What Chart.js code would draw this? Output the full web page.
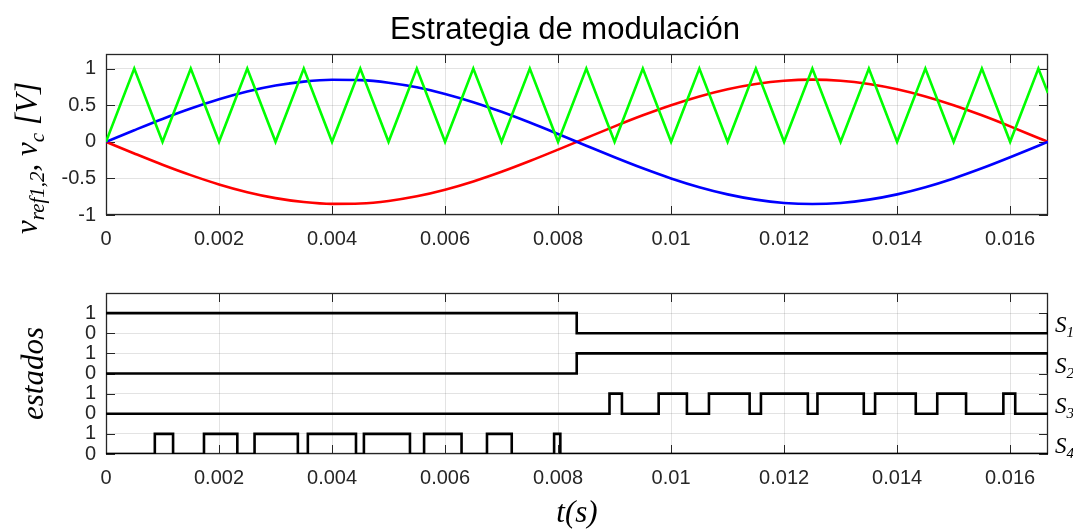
<!DOCTYPE html>
<html>
<head>
<meta charset="utf-8">
<script src="https://cdn.jsdelivr.net/npm/chart.js@4.4.0/dist/chart.umd.min.js"></script>
<style>
  html, body { margin: 0; padding: 0; background: #fff; overflow: hidden; }
  #top { position: absolute; left: 0; top: 0; width: 1073px; height: 262px; }
  #bot { position: absolute; left: 0; top: 265px; width: 1073px; height: 264px; }
</style>
</head>
<body>
<div id="top"><canvas id="modChart"></canvas></div>
<div id="bot"><canvas id="stateChart"></canvas></div>
<script>
// time axis (s)
const tMax = 0.01667;
const xTicks = [0, 0.002, 0.004, 0.006, 0.008, 0.01, 0.012, 0.014, 0.016];
const xTickLabels = ['0', '0.002', '0.004', '0.006', '0.008', '0.01', '0.012', '0.014', '0.016'];

// top plot: references and carrier, sampled every 0.5 ms
const tTop = [0, 0.0005, 0.001, 0.0015, 0.002, 0.0025, 0.003, 0.0035, 0.004, 0.0045,
  0.005, 0.0055, 0.006, 0.0065, 0.007, 0.0075, 0.008, 0.0085, 0.009, 0.0095,
  0.01, 0.0105, 0.011, 0.0115, 0.012, 0.0125, 0.013, 0.0135, 0.014, 0.0145,
  0.015, 0.0155, 0.016, 0.0165, 0.01667];
const vref1 = [0, 0.159, 0.313, 0.455, 0.582, 0.688, 0.769, 0.823, 0.848, 0.843,
  0.808, 0.745, 0.655, 0.542, 0.410, 0.263, 0.107, -0.053, -0.211, -0.362,
  -0.500, -0.620, -0.718, -0.790, -0.835, -0.850, -0.835, -0.790, -0.718, -0.620,
  -0.500, -0.362, -0.211, -0.053, 0];
const vref2 = [0, -0.159, -0.313, -0.455, -0.582, -0.688, -0.769, -0.823, -0.848, -0.843,
  -0.808, -0.745, -0.655, -0.542, -0.410, -0.263, -0.107, 0.053, 0.211, 0.362,
  0.500, 0.620, 0.718, 0.790, 0.835, 0.850, 0.835, 0.790, 0.718, 0.620,
  0.500, 0.362, 0.211, 0.053, 0];
const vc = [0, 1, 0, 1, 0, 1, 0, 1, 0, 1,
  0, 1, 0, 1, 0, 1, 0, 1, 0, 1,
  0, 1, 0, 1, 0, 1, 0, 1, 0, 1,
  0, 1, 0, 1, 0.667];
const yTopTicks = [-1, -0.5, 0, 0.5, 1];
const yTopLabels = ['-1', '-0.5', '0', '0.5', '1'];

// bottom plot: switch states, start value + switching instants (s)
const s1Start = 1, s1Switch = [0.00833, 0.01667];
const s2Start = 0, s2Switch = [0.00833, 0.01667];
const s3Start = 0, s3Switch = [0.00891, 0.00913, 0.00978, 0.01028, 0.01067, 0.01139, 0.01159, 0.01242,
  0.01259, 0.01341, 0.01361, 0.01433, 0.01471, 0.01522, 0.01588, 0.01609];
const s4Start = 0, s4Switch = [0.000864, 0.001187, 0.001734, 0.002324, 0.002629, 0.003395, 0.003572, 0.004424,
  0.004564, 0.005379, 0.005629, 0.006292, 0.006742, 0.00718, 0.00793, 0.00804];
const stateTicks = [0, 1, 2, 3, 4, 5, 6, 7];
const stateLabels = ['0', '1', '0', '1', '0', '1', '0', '1'];
const switchNames = ['1', '2', '3', '4'];

const axisColor = '#262626';
const gridColor = 'rgba(38,38,38,0.13)';
const sans = "'Liberation Sans', Arial, sans-serif";
const serif = "'Liberation Serif', 'Times New Roman', serif";

Chart.defaults.font.family = sans;
Chart.defaults.font.size = 20;
Chart.defaults.color = axisColor;

function steps(start, switches, offset) {
  let s = start;
  const pts = [{ x: 0, y: s + offset }];
  switches.forEach(t => { s = 1 - s; pts.push({ x: t, y: s + offset }); });
  if (pts[pts.length - 1].x < tMax) pts.push({ x: tMax, y: s + offset });
  return pts;
}

// MATLAB-like box with inward ticks
const boxAxes = {
  id: 'boxAxes',
  beforeDatasetsDraw(chart) {
    const { ctx, chartArea: a, scales: { x, y } } = chart;
    ctx.save();
    ctx.strokeStyle = axisColor;
    ctx.lineWidth = 1;
    ctx.beginPath();
    x.ticks.forEach(t => {
      const px = Math.round(x.getPixelForValue(t.value)) + 0.5;
      ctx.moveTo(px, a.top); ctx.lineTo(px, a.top + 9);
      ctx.moveTo(px, a.bottom); ctx.lineTo(px, a.bottom - 9);
    });
    y.ticks.forEach(t => {
      const py = Math.round(y.getPixelForValue(t.value)) + 0.5;
      ctx.moveTo(a.left, py); ctx.lineTo(a.left + 9, py);
      ctx.moveTo(a.right, py); ctx.lineTo(a.right - 9, py);
    });
    ctx.stroke();
    ctx.lineWidth = 1.3;
    ctx.strokeRect(Math.round(a.left) + 0.5, Math.round(a.top) + 0.5,
      Math.round(a.width) - 1, Math.round(a.height) - 1);
    ctx.restore();
  }
};

function drawRich(ctx, pieces) {
  let w = 0;
  pieces.forEach(p => { ctx.font = 'italic ' + p.s + 'px ' + serif; p.w = ctx.measureText(p.t).width; w += p.w; });
  let cx = -w / 2;
  pieces.forEach(p => {
    ctx.font = 'italic ' + p.s + 'px ' + serif;
    ctx.fillText(p.t, cx, p.dy);
    cx += p.w;
  });
}

// title and rotated y label with subscripts
const topTexts = {
  id: 'topTexts',
  afterDraw(chart) {
    const { ctx } = chart;
    ctx.save();
    ctx.fillStyle = '#000';
    ctx.textBaseline = 'alphabetic';
    ctx.textAlign = 'center';
    ctx.font = '31px ' + sans;
    ctx.fillText('Estrategia de modulación', 565, 39);
    ctx.textAlign = 'left';
    ctx.translate(37, 158);
    ctx.rotate(-Math.PI / 2);
    drawRich(ctx, [
      { t: 'v', s: 31, dy: 0 },
      { t: 'ref1,2', s: 21, dy: 7 },
      { t: ', v', s: 31, dy: 0 },
      { t: 'c', s: 21, dy: 7 },
      { t: ' [V]', s: 31, dy: 0 }
    ]);
    ctx.restore();
  }
};

const switchLabels = {
  id: 'switchLabels',
  afterDraw(chart) {
    const { ctx, chartArea: a, scales: { y } } = chart;
    ctx.save();
    ctx.fillStyle = '#000';
    ctx.textBaseline = 'alphabetic';
    switchNames.forEach((n, i) => {
      const base = y.getPixelForValue((3 - i) * 2) - 1;
      const x0 = a.right + 7;
      ctx.font = 'italic 23px ' + serif;
      ctx.fillText('S', x0, base);
      const w = ctx.measureText('S').width;
      ctx.font = 'italic 15px ' + serif;
      ctx.fillText(n, x0 + w, base + 5);
    });
    ctx.restore();
  }
};

const xScale = {
  type: 'linear',
  min: 0,
  max: tMax,
  afterBuildTicks: s => { s.ticks = xTicks.map(v => ({ value: v })); },
  ticks: { autoSkip: false, maxRotation: 0, padding: 12, color: axisColor, callback: (v, i) => xTickLabels[i] },
  grid: { color: gridColor, drawTicks: false },
  border: { display: false }
};

new Chart(document.getElementById('modChart'), {
  type: 'line',
  data: {
    datasets: [
      { data: tTop.map((t, i) => ({ x: t, y: vc[i] })), borderColor: '#00ff00', tension: 0 },
      { data: tTop.map((t, i) => ({ x: t, y: vref1[i] })), borderColor: '#0000ff', cubicInterpolationMode: 'monotone' },
      { data: tTop.map((t, i) => ({ x: t, y: vref2[i] })), borderColor: '#ff0000', cubicInterpolationMode: 'monotone' }
    ]
  },
  options: {
    responsive: true,
    maintainAspectRatio: false,
    animation: false,
    layout: { padding: { left: 0, right: 25, top: 54, bottom: 0 } },
    elements: { point: { radius: 0 }, line: { borderWidth: 2.6 } },
    plugins: { legend: { display: false }, tooltip: { enabled: false } },
    scales: {
      x: Object.assign({}, xScale, { afterFit: s => { s.height = 47; } }),
      y: {
        min: -1,
        max: 1.2,
        afterBuildTicks: s => { s.ticks = yTopTicks.map(v => ({ value: v })); },
        afterFit: s => { s.width = 106; },
        ticks: { autoSkip: false, padding: 10, color: axisColor, callback: (v, i) => yTopLabels[i] },
        grid: { color: gridColor, drawTicks: false },
        border: { display: false }
      }
    }
  },
  plugins: [boxAxes, topTexts]
});

new Chart(document.getElementById('stateChart'), {
  type: 'line',
  data: {
    datasets: [
      { data: steps(s1Start, s1Switch, 6) },
      { data: steps(s2Start, s2Switch, 4) },
      { data: steps(s3Start, s3Switch, 2) },
      { data: steps(s4Start, s4Switch, 0) }
    ]
  },
  options: {
    responsive: true,
    maintainAspectRatio: false,
    animation: false,
    layout: { padding: { left: 0, right: 25, top: 28, bottom: 0 } },
    elements: { point: { radius: 0 }, line: { borderWidth: 2.6, borderColor: '#000', stepped: true } },
    plugins: { legend: { display: false }, tooltip: { enabled: false } },
    scales: {
      x: Object.assign({}, xScale, {
        afterFit: s => { s.height = 75; },
        title: {
          display: true, text: 't(s)', color: '#000',
          font: { family: serif, style: 'italic', size: 31, lineHeight: 1 },
          padding: { top: 0, bottom: 0 }
        }
      }),
      y: {
        min: 0,
        max: 8,
        afterBuildTicks: s => { s.ticks = stateTicks.map(v => ({ value: v })); },
        afterFit: s => { s.width = 106; },
        ticks: { autoSkip: false, padding: 10, color: axisColor, callback: (v, i) => stateLabels[i] },
        grid: { color: gridColor, drawTicks: false },
        border: { display: false },
        title: {
          display: true, text: 'estados', color: '#000',
          font: { family: serif, style: 'italic', size: 31, lineHeight: 1 },
          padding: { top: 19, bottom: 0 }
        }
      }
    }
  },
  plugins: [boxAxes, switchLabels]
});
</script>
</body>
</html>
